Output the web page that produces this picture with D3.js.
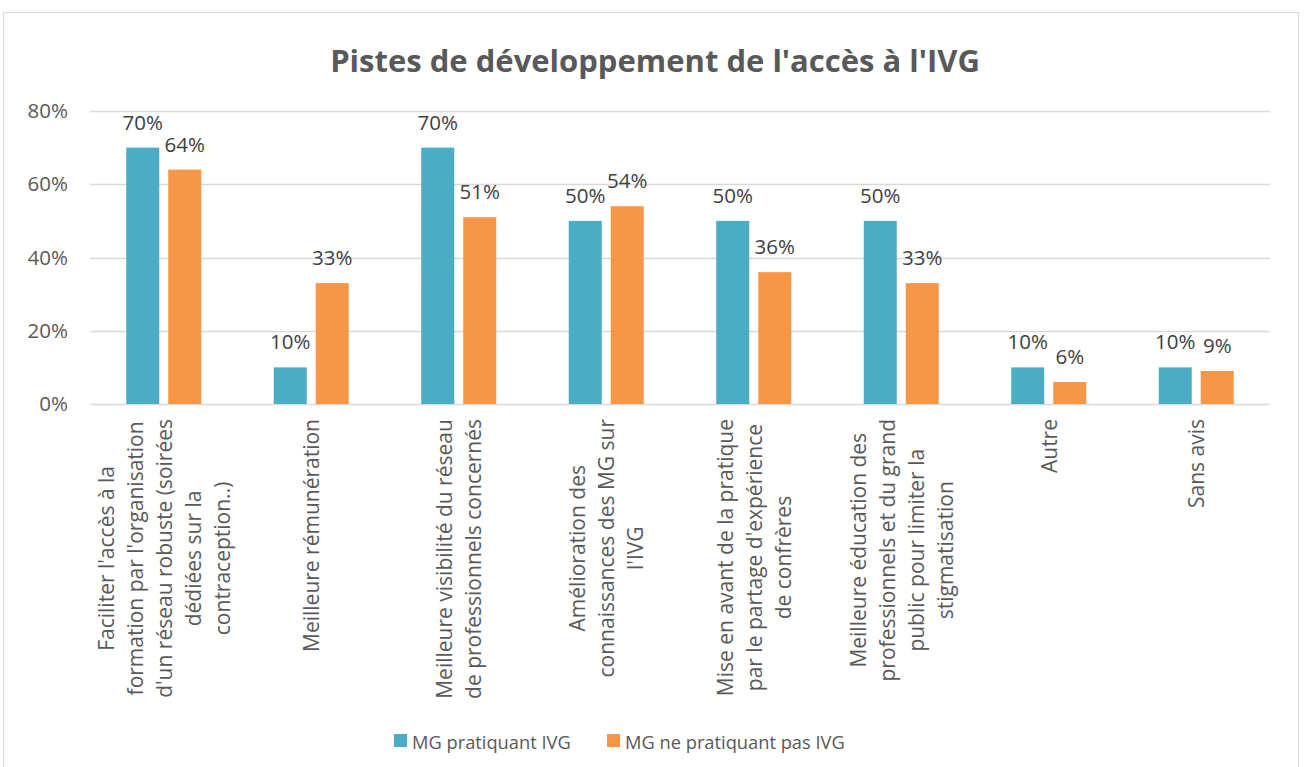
<!DOCTYPE html>
<html>
<head>
<meta charset="utf-8">
<script src="https://cdn.jsdelivr.net/npm/d3@7"></script>
<style>
  body { margin: 0; background: #fff; }
  svg { display: block; font-family: "Open Sans", sans-serif; }
</style>
</head>
<body>
<svg id="chart" width="1304" height="767"></svg>
<script>
const categories = [
  ["Faciliter l'accès à la", "formation par l'organisation", "d'un réseau robuste (soirées", "dédiées sur la", "contraception..)"],
  ["Meilleure rémunération"],
  ["Meilleure visibilité du réseau", "de professionnels concernés"],
  ["Amélioration des", "connaissances des MG sur", "l'IVG"],
  ["Mise en avant de la pratique", "par le partage d'expérience", "de confrères"],
  ["Meilleure éducation des", "professionnels et du grand", "public pour limiter la", "stigmatisation"],
  ["Autre"],
  ["Sans avis"]
];
const seriesNames = ["MG pratiquant IVG", "MG ne pratiquant pas IVG"];
const pratiquant = [0.70, 0.10, 0.70, 0.50, 0.50, 0.50, 0.10, 0.10];
const nePratiquant = [0.64, 0.33, 0.51, 0.54, 0.36, 0.33, 0.06, 0.09];
const yTicks = [0, 0.2, 0.4, 0.6, 0.8];
const colors = ["#4bacc6", "#f79646"];
const title = "Pistes de développement de l'accès à l'IVG";

const width = 1304;
const height = 767;
const plotLeft = 90, plotRight = 1270, plotTop = 111, plotBottom = 404;

const svg = d3.select("#chart");

// chart frame
svg.append("rect")
  .attr("x", 3.5).attr("y", 12.5)
  .attr("width", 1295).attr("height", 760)
  .attr("fill", "#fff")
  .attr("stroke", "#d9d9d9");

svg.append("text")
  .attr("x", 655).attr("y", 60)
  .attr("text-anchor", "middle")
  .attr("dominant-baseline", "central")
  .attr("font-size", 31)
  .attr("font-weight", "bold")
  .attr("fill", "#595959")
  .text(title);

const idx = d3.range(categories.length);
const x0 = d3.scaleBand().domain(idx).range([plotLeft, plotRight]);
const x1 = d3.scaleBand().domain([0, 1])
  .range([x0.bandwidth() / 2 - 37.5, x0.bandwidth() / 2 + 37.5])
  .paddingInner(0.214);
const y = d3.scaleLinear().domain([0, 0.8]).range([plotBottom, plotTop]);

// gridlines
svg.append("g")
  .selectAll("line")
  .data(yTicks)
  .join("line")
  .attr("x1", plotLeft).attr("x2", plotRight)
  .attr("y1", d => Math.round(y(d)) + 0.5)
  .attr("y2", d => Math.round(y(d)) + 0.5)
  .attr("stroke", "#d9d9d9")
  .attr("stroke-width", 1.5);

// y axis labels
const yAxis = svg.append("g")
  .attr("transform", `translate(${plotLeft},0)`)
  .call(d3.axisLeft(y).tickValues(yTicks).tickFormat(d3.format(".0%")).tickSize(0).tickPadding(22));
yAxis.select(".domain").remove();
yAxis.selectAll("text")
  .attr("font-family", "Open Sans, sans-serif")
  .attr("font-size", 20.5)
  .attr("fill", "#595959");

const rows = idx.map(i => [pratiquant[i], nePratiquant[i]]);

const groups = svg.append("g")
  .selectAll("g")
  .data(rows)
  .join("g")
  .attr("transform", (d, i) => `translate(${x0(i)},0)`);

groups.selectAll("rect")
  .data(d => d.map((v, s) => ({ v, s })))
  .join("rect")
  .attr("x", d => x1(d.s))
  .attr("width", x1.bandwidth())
  .attr("y", d => y(d.v))
  .attr("height", d => plotBottom - y(d.v))
  .attr("fill", d => colors[d.s]);

groups.selectAll("text")
  .data(d => d.map((v, s) => ({ v, s })))
  .join("text")
  .attr("x", d => x1(d.s) + x1.bandwidth() / 2)
  .attr("y", d => y(d.v) - 18)
  .attr("text-anchor", "middle")
  .attr("font-size", 20.5)
  .attr("fill", "#404040")
  .text(d => d3.format(".0%")(d.v));

// category labels, rotated
const lineGap = 29;
const catG = svg.append("g")
  .selectAll("g")
  .data(categories)
  .join("g")
  .attr("transform", (d, i) => `translate(${x0(i) + x0.bandwidth() / 2},419) rotate(-90)`);

catG.each(function (lines) {
  const g = d3.select(this);
  const n = lines.length;
  lines.forEach((t, k) => {
    g.append("text")
      .attr("x", 0)
      .attr("y", (k - (n - 1) / 2) * lineGap)
      .attr("text-anchor", "end")
      .attr("dominant-baseline", "central")
      .attr("font-size", 21)
      .attr("fill", "#595959")
      .text(t);
  });
});

// center each multi-line label block like text-align:center
catG.each(function () {
  const texts = d3.select(this).selectAll("text").nodes();
  const widths = texts.map(t => t.getComputedTextLength());
  const maxW = d3.max(widths);
  texts.forEach((t, k) => {
    d3.select(t).attr("x", -(maxW - widths[k]) / 2);
  });
});

// legend
const legend = svg.append("g");
const legendX = [394, 607];
seriesNames.forEach((name, s) => {
  legend.append("rect")
    .attr("x", legendX[s]).attr("y", 734)
    .attr("width", 13).attr("height", 13)
    .attr("fill", colors[s]);
  legend.append("text")
    .attr("x", legendX[s] + 18).attr("y", 741)
    .attr("dominant-baseline", "central")
    .attr("font-size", 18.3)
    .attr("fill", "#595959")
    .text(name);
});
</script>
</body>
</html>
